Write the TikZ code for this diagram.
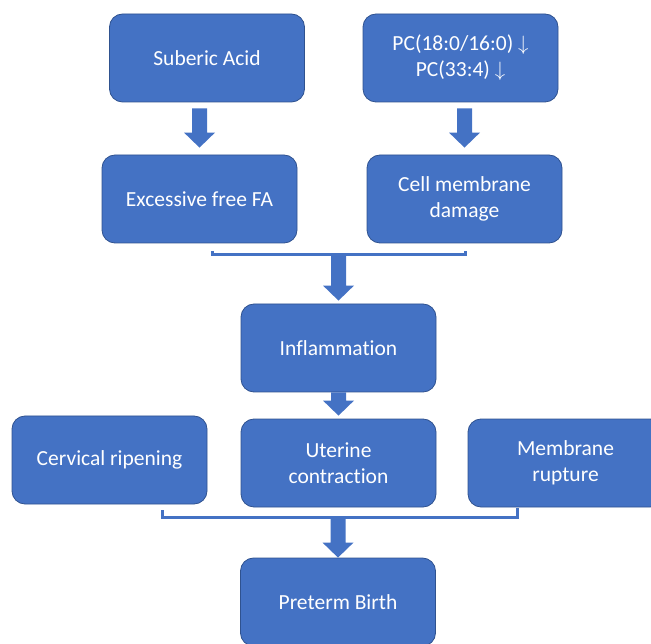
\documentclass[tikz,border=0pt]{standalone}
\usepackage{fontspec}
\setmainfont{Carlito}[Ligatures={NoCommon}]
\usetikzlibrary{calc}
\definecolor{boxblue}{HTML}{4472C4}
\definecolor{boxline}{HTML}{2F528F}
\tikzset{
    box/.style={draw=boxline, line width=0.8pt, fill=boxblue, rounded corners=13pt,
        minimum width=195pt, minimum height=88pt, text=white, align=center,
        font=\fontsize{21.5}{26}\selectfont},
    bracket/.style={draw=boxblue, line width=3pt},
}
\begin{document}
\begin{tikzpicture}[x=1pt,y=-1pt]
        \useasboundingbox (0,0) rectangle (651,644);
        \clip (0,0) rectangle (651,644);
        \node[box] (sub) at (207,58) {Suberic Acid};
        \node[box] (pc) at (460.5,58) {PC(18:0/16:0) $\downarrow$\\PC(33:4) $\downarrow$};
        \node[box] (ffa) at (199.5,199) {Excessive free FA};
        \node[box] (cmd) at (464.5,199) {Cell membrane\\damage};
        \node[box] (inf) at (338.5,348) {Inflammation};
        \node[box] (cer) at (109.5,460) {Cervical ripening};
        \node[box] (ute) at (338.5,463) {Uterine\\contraction};
        \node[box] (mem) at (565.5,463) {Membrane\\rupture};
        \node[box] (pb) at (338,602) {Preterm Birth};
        \coordinate (j1) at (338,254.5);
        \coordinate (j2) at (337.5,517);
        \draw[bracket] (212,251) |- (j1) -| (465,251);
        \draw[bracket] (162,510) |- (j2) -| (517,508);
        \foreach \a/\b/\g/\h in {sub.south/ffa.north/6/7, pc.south/cmd.north/6/7,
                j1/inf.north/0/3, inf.south/ute.north/0/3, j2/pb.north/0/0} {
            \fill[boxblue] let \p1=(\a), \p2=(\b) in
                (\x2-7.5,\y1-\g) -- (\x2+7.5,\y1-\g) -- (\x2+7.5,\y2+\h+15)
                -- (\x2+15.5,\y2+\h+15) -- (\x2,\y2+\h) -- (\x2-15.5,\y2+\h+15)
                -- (\x2-7.5,\y2+\h+15) -- cycle;
        }
    \end{tikzpicture}
\end{document}
